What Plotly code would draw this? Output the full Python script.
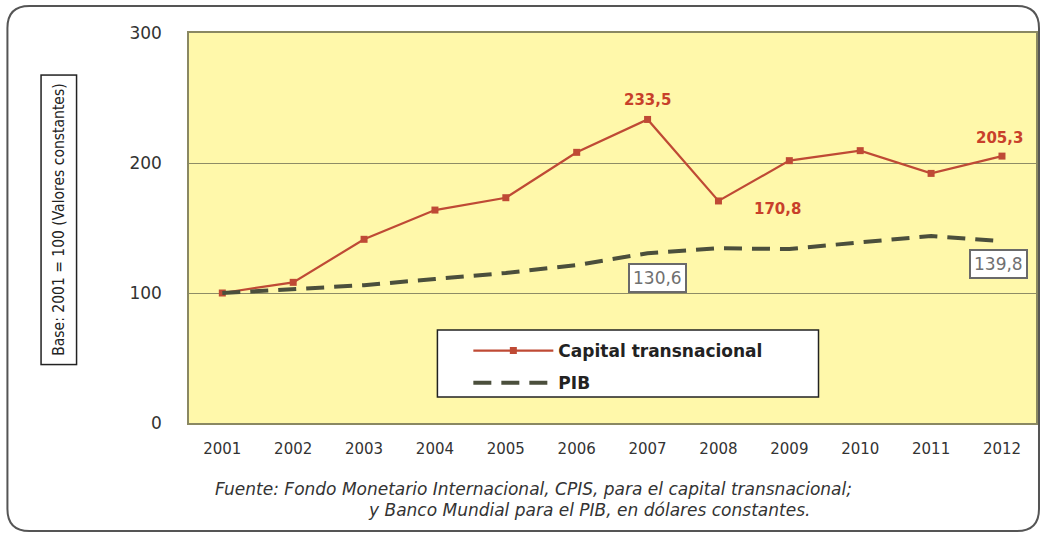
import plotly.graph_objects as go

years = ["2001", "2002", "2003", "2004", "2005", "2006", "2007", "2008", "2009", "2010", "2011", "2012"]
capital = [100, 108.2, 141.3, 163.8, 173.3, 208.2, 233.5, 170.8, 201.8, 209.5, 192.0, 205.3]
pib = [100, 103.0, 106.0, 110.8, 115.4, 121.5, 130.6, 134.4, 133.8, 139.0, 143.8, 139.8]
y_ticks = [0, 100, 200, 300]

W, H = 1045, 536
L, R, T, B = 189, 1038, 33, 423


def px(xp):
    return (xp - L) / (R - L)


def py(yp):
    return (B - yp) / (B - T)


RED = "#BF4A35"
LABEL_RED = "#C8402A"
DARK = "#4B4F3C"

fig = go.Figure()
fig.add_trace(go.Scatter(
    x=years, y=capital, name="Capital transnacional", mode="lines+markers",
    line=dict(color=RED, width=2.2), marker=dict(symbol="square", size=7, color=RED),
    legendgroup="a",
))
fig.add_trace(go.Scatter(
    x=years, y=pib, name="PIB", mode="lines",
    line=dict(color=DARK, width=4, dash="18px,10px"),
    legendgroup="b",
))

anns = []
# red value labels (x given as category index)
for idx, dx, dy in [(6, 0, 19), (7, 59, -8), (11, -2, 18)]:
    anns.append(dict(x=idx, y=capital[idx], xref="x", yref="y",
                     xanchor="center", yanchor="middle",
                     text=f"{capital[idx]:.1f}".replace(".", ","), showarrow=False,
                     xshift=dx, yshift=dy,
                     font=dict(family="DejaVu Sans", size=15, color=LABEL_RED, weight="bold")))
# boxed PIB labels
for idx, dx, dy in [(6, 10, -25), (11, -3, -23)]:
    anns.append(dict(x=idx, y=pib[idx], xref="x", yref="y",
                     xanchor="center", yanchor="middle",
                     text=f"{pib[idx]:.1f}".replace(".", ","), showarrow=False,
                     xshift=dx, yshift=dy, bgcolor="white", bordercolor="#6A6A6A",
                     borderwidth=2, borderpad=3,
                     font=dict(family="DejaVu Sans", size=17, color="#707070")))
# y-axis title boxed
anns.append(dict(x=px(59), y=py(220), xref="paper", yref="paper", showarrow=False,
                 xanchor="center", yanchor="middle",
                 text="Base: 2001 = 100 (Valores constantes)", textangle=-90,
                 bordercolor="#222", borderwidth=1.5, borderpad=8, bgcolor="white",
                 font=dict(family="Liberation Sans Narrow, DejaVu Sans Condensed, Liberation Sans", size=15.5, color="#222")))
# footnote
anns.append(dict(x=px(534), y=py(489), xref="paper", yref="paper", showarrow=False,
                 xanchor="center", yanchor="middle",
                 text="<i>Fuente: Fondo Monetario Internacional, CPIS, para el capital transnacional;</i>",
                 font=dict(family="DejaVu Sans", size=17, color="#333")))
anns.append(dict(x=px(590), y=py(510), xref="paper", yref="paper", showarrow=False,
                 xanchor="center", yanchor="middle",
                 text="<i>y Banco Mundial para el PIB, en dólares constantes.</i>",
                 font=dict(family="DejaVu Sans", size=17, color="#333")))

# outer rounded frame
x0, x1, y0, y1, r = 7, 1041, 6, 531, 22
path = (f"M {px(x0 + r)} {py(y0)} L {px(x1 - r)} {py(y0)} Q {px(x1)} {py(y0)} {px(x1)} {py(y0 + r)} "
        f"L {px(x1)} {py(y1 - r)} Q {px(x1)} {py(y1)} {px(x1 - r)} {py(y1)} "
        f"L {px(x0 + r)} {py(y1)} Q {px(x0)} {py(y1)} {px(x0)} {py(y1 - r)} "
        f"L {px(x0)} {py(y0 + r)} Q {px(x0)} {py(y0)} {px(x0 + r)} {py(y0)} Z")
shapes = [
    dict(type="path", path=path, xref="paper", yref="paper", line=dict(color="#555", width=2), layer="below"),
    dict(type="rect", xref="paper", yref="paper", x0=px(438), x1=px(820), y0=py(397), y1=py(330),
         fillcolor="white", line=dict(color="#222", width=1.5), layer="above"),
]

fig.update_layout(
    width=W, height=H,
    margin=dict(l=L, r=W - R, t=T, b=H - B),
    paper_bgcolor="white", plot_bgcolor="#FFF8AA",
    showlegend=True,
    legend=dict(x=px(469), y=py(333), xanchor="left", yanchor="top",
                bgcolor="rgba(0,0,0,0)", borderwidth=0, itemwidth=80, tracegroupgap=7,
                font=dict(family="DejaVu Sans", size=17, color="#222", weight="bold")),
    annotations=anns, shapes=shapes,
    xaxis=dict(type="category", range=[-0.47, 11.48], showgrid=False, showline=True, mirror=True,
               linecolor="#8A8862", linewidth=1.5, ticks="", ticklabelstandoff=11,
               tickfont=dict(family="DejaVu Sans", size=15, color="#333")),
    yaxis=dict(range=[0, 300], tickvals=y_ticks, showgrid=True, gridcolor="#8E8C66", gridwidth=1,
               showline=True, mirror=True, linecolor="#8A8862", linewidth=1.5, zeroline=False,
               ticks="", ticklabelstandoff=22,
               tickfont=dict(family="DejaVu Sans", size=17, color="#333")),
)

fig.write_html("out.html", config={"displayModeBar": False},
               post_script="document.body.style.margin='0';")
